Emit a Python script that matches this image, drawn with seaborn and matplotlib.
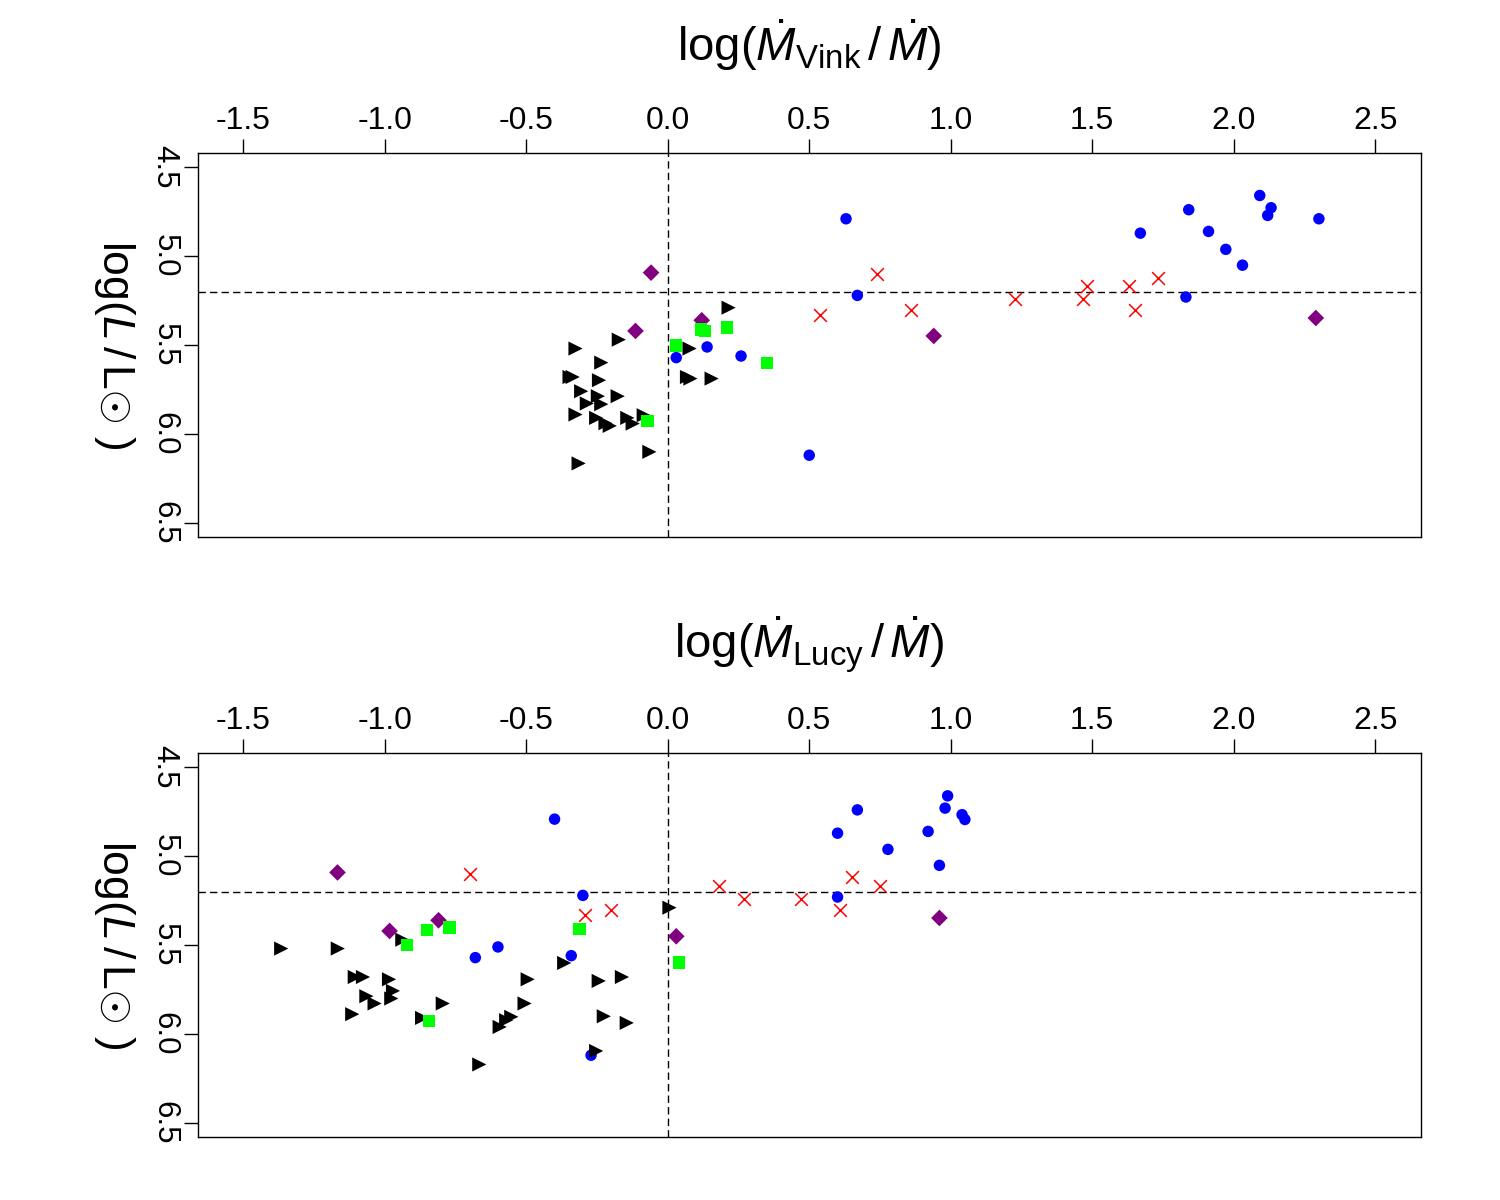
import matplotlib
matplotlib.use("Agg")
import matplotlib.pyplot as plt
import seaborn as sns
import pandas as pd

# ---------------- data: panel 1 (Vink) ----------------
v_blue_x = [0.030, 0.139, 0.259, 0.500, 0.630, 0.670, 1.670, 1.841, 1.911, 1.972,
            2.031, 2.092, 2.132, 2.120, 2.301, 1.831]
v_blue_y = [5.571, 5.511, 5.562, 6.120, 4.790, 5.221, 4.871, 4.739, 4.861, 4.962,
            5.051, 4.659, 4.728, 4.771, 4.790, 5.230]
v_red_x = [0.539, 0.738, 0.859, 1.228, 1.480, 1.469, 1.630, 1.652, 1.731]
v_red_y = [5.333, 5.103, 5.301, 5.239, 5.170, 5.239, 5.170, 5.301, 5.121]
v_purple_x = [-0.059, -0.114, 0.120, 0.940, 2.290]
v_purple_y = [5.093, 5.421, 5.361, 5.449, 5.348]
v_green_x = [0.030, 0.118, 0.132, 0.210, 0.350, -0.071]
v_green_y = [5.502, 5.414, 5.421, 5.402, 5.601, 5.929]
v_black_x = [-0.173, -0.326, -0.235, -0.347, -0.336, -0.243, -0.306, -0.177, -0.247,
             -0.286, -0.235, -0.326, -0.253, -0.220, -0.205, -0.143, -0.124, -0.085,
             -0.065, -0.315, 0.077, 0.068, 0.080, 0.155, 0.215]
v_black_y = [5.470, 5.520, 5.599, 5.680, 5.680, 5.698, 5.760, 5.788, 5.788,
             5.829, 5.833, 5.891, 5.910, 5.940, 5.955, 5.910, 5.942, 5.895,
             6.101, 6.166, 5.520, 5.680, 5.689, 5.689, 5.290]

# ---------------- data: panel 2 (Lucy) ----------------
l_blue_x = [-0.400, -0.300, -0.600, -0.680, -0.341, -0.271, 0.989, 0.980, 1.040, 1.050,
            0.670, 0.600, 0.920, 0.778, 0.960, 0.600]
l_blue_y = [4.792, 5.221, 5.511, 5.571, 5.560, 6.120, 4.661, 4.730, 4.767, 4.794,
            4.740, 4.871, 4.861, 4.962, 5.052, 5.230]
l_red_x = [-0.700, -0.292, -0.200, 0.180, 0.271, 0.471, 0.610, 0.650, 0.749]
l_red_y = [5.099, 5.333, 5.301, 5.170, 5.243, 5.243, 5.301, 5.120, 5.170]
l_purple_x = [-1.167, -0.983, -0.810, 0.030, 0.960]
l_purple_y = [5.092, 5.421, 5.361, 5.451, 5.348]
l_green_x = [-0.851, -0.771, -0.922, -0.843, -0.312, 0.039]
l_green_y = [5.417, 5.402, 5.500, 5.929, 5.410, 5.599]
l_black_x = [-1.366, -1.166, -0.938, -1.106, -1.077, -0.985, -1.065, -1.036, -0.971,
             -0.977, -1.115, -0.868, -0.795, 0.006, -0.366, -0.495, -0.244, -0.162,
             -0.506, -0.226, -0.145, -0.553, -0.571, -0.594, -0.253, -0.666]
l_black_y = [5.520, 5.520, 5.470, 5.680, 5.680, 5.693, 5.788, 5.829, 5.758,
             5.801, 5.889, 5.910, 5.829, 5.290, 5.601, 5.693, 5.702, 5.680,
             5.829, 5.901, 5.938, 5.904, 5.923, 5.961, 6.096, 6.172]

x_ticks = [-1.5, -1.0, -0.5, 0.0, 0.5, 1.0, 1.5, 2.0, 2.5]
x_tick_labels = ["-1.5", "-1.0", "-0.5", "0.0", "0.5", "1.0", "1.5", "2.0", "2.5"]
y_ticks = [4.5, 5.0, 5.5, 6.0, 6.5]
y_tick_labels = ["4.5", "5.0", "5.5", "6.0", "6.5"]
x_labels = [r"$\mathrm{log}(\dot{M}_{\mathrm{Vink}}\,/\,\dot{M})$",
            r"$\mathrm{log}(\dot{M}_{\mathrm{Lucy}}\,/\,\dot{M})$"]
y_label = r"log($L\,/\,$L$\odot$ )"
h_line = 5.2
v_line = 0.0

# ---------------- style ----------------
sns.set_style("white")
plt.rcParams["font.family"] = ["Liberation Sans", "DejaVu Sans"]
plt.rcParams["mathtext.fontset"] = "custom"
plt.rcParams["mathtext.rm"] = "Liberation Sans"
plt.rcParams["mathtext.it"] = "Liberation Sans:italic"
plt.rcParams["mathtext.bf"] = "Liberation Sans:bold"
plt.rcParams["mathtext.fallback"] = "cm"
plt.rcParams["axes.unicode_minus"] = False
plt.rcParams["text.color"] = "black"
plt.rcParams["axes.labelcolor"] = "black"
plt.rcParams["xtick.color"] = "black"
plt.rcParams["ytick.color"] = "black"

groups = [
    ("blue", "o", "#0000FF", 68),
    ("red", "x", "#FF0000", 84),
    ("black", ">", "#000000", 104),
    ("purple", "D", "#800080", 72),
    ("green", "s", "#00FF00", 80),
]

panels = [
    {"blue": (v_blue_x, v_blue_y), "red": (v_red_x, v_red_y),
     "purple": (v_purple_x, v_purple_y), "green": (v_green_x, v_green_y),
     "black": (v_black_x, v_black_y)},
    {"blue": (l_blue_x, l_blue_y), "red": (l_red_x, l_red_y),
     "purple": (l_purple_x, l_purple_y), "green": (l_green_x, l_green_y),
     "black": (l_black_x, l_black_y)},
]

fig = plt.figure(figsize=(15, 12), dpi=100)
ax_rects = [[0.132, 0.5525, 0.815, 0.32], [0.132, 0.0525, 0.815, 0.32]]

for i, (rect, pdata) in enumerate(zip(ax_rects, panels)):
    ax = fig.add_axes(rect)
    for name, marker, color, size in groups:
        gx, gy = pdata[name]
        df = pd.DataFrame({"x": gx, "y": gy})
        if marker == "x":
            sns.scatterplot(data=df, x="x", y="y", marker=marker, color=color,
                            s=size, linewidth=1.1, ax=ax, legend=False, zorder=3)
        else:
            sns.scatterplot(data=df, x="x", y="y", marker=marker, color=color,
                            s=size, linewidth=0, edgecolor="none", ax=ax,
                            legend=False, zorder=3)
    ax.axhline(h_line, color="black", lw=1.0, dashes=(5.3, 3.0), zorder=1)
    ax.axvline(v_line, color="black", lw=1.0, dashes=(5.3, 3.0), zorder=1)

    ax.set_xlim(-1.66, 2.66)
    ax.set_ylim(6.58, 4.42)
    ax.set_xticks(x_ticks)
    ax.set_xticklabels(x_tick_labels)
    ax.set_yticks(y_ticks)
    ax.set_yticklabels(y_tick_labels, rotation=270, va="center")
    ax.xaxis.tick_top()
    ax.xaxis.set_label_position("top")
    ax.tick_params(axis="x", which="both", direction="out", length=10.2, width=1.0,
                   pad=2, labelsize=23, colors="black", top=True, bottom=False)
    ax.tick_params(axis="y", which="both", direction="out", length=10.2, width=1.0,
                   pad=3, labelsize=22.5, colors="black", left=True)
    for sp in ax.spines.values():
        sp.set_color("black")
        sp.set_linewidth(1.0)

    ax.set_xlabel(x_labels[i], fontsize=34, color="black")
    ax.xaxis.label.set_verticalalignment("center")
    ax.xaxis.set_label_coords(0.5, 1.281)
    ax.set_ylabel(y_label, fontsize=32, rotation=270, color="black")
    ax.yaxis.label.set_verticalalignment("center")
    ax.yaxis.set_label_coords(-0.068, 0.5)
    ax.grid(False)

fig.savefig("out.png", dpi=100, facecolor="white")
